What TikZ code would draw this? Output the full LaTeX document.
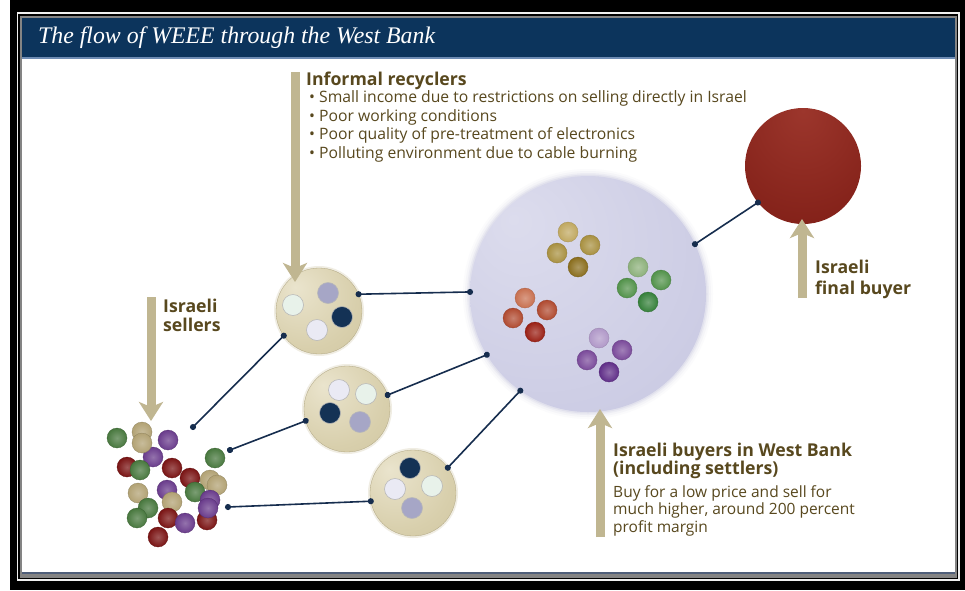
\documentclass[tikz,border=0pt]{standalone}
\usepackage{fontspec}
\setmainfont{Open Sans}
\newfontfamily\titlefont{Liberation Serif}
\usetikzlibrary{arrows.meta}
\definecolor{navyband}{RGB}{12,52,92}
\definecolor{bandline}{RGB}{110,140,180}
\definecolor{bottomline}{RGB}{80,95,122}
\definecolor{framegray}{RGB}{132,132,132}
\definecolor{txt}{RGB}{88,72,30}
\definecolor{tanarrow}{RGB}{192,182,145}
\definecolor{conncol}{RGB}{22,45,78}
\definecolor{tanL}{RGB}{234,228,205}
\definecolor{tanM}{RGB}{216,207,172}
\definecolor{tanD}{RGB}{196,185,145}
\definecolor{lavL}{RGB}{220,220,237}
\definecolor{lavM}{RGB}{202,202,227}
\definecolor{lavD}{RGB}{178,178,210}
\definecolor{redL}{RGB}{156,54,44}
\definecolor{redM}{RGB}{130,32,24}
\definecolor{redD}{RGB}{108,18,12}
\definecolor{pgreen}{RGB}{72,120,62}
\definecolor{ptan}{RGB}{178,162,116}
\definecolor{ppurple}{RGB}{106,60,140}
\definecolor{pred}{RGB}{122,20,20}
\definecolor{dmint}{RGB}{232,242,234}
\definecolor{dlav}{RGB}{166,166,198}
\definecolor{dnavy}{RGB}{20,50,85}
\definecolor{dpale}{RGB}{234,234,244}
\definecolor{gold1}{RGB}{192,168,96}
\definecolor{gold2}{RGB}{168,144,64}
\definecolor{gold3}{RGB}{138,110,30}
\definecolor{grn1}{RGB}{140,176,122}
\definecolor{grn2}{RGB}{82,146,74}
\definecolor{grn3}{RGB}{53,128,58}
\definecolor{red1}{RGB}{200,112,80}
\definecolor{red2}{RGB}{176,74,48}
\definecolor{red3}{RGB}{154,32,21}
\definecolor{pur1}{RGB}{176,152,200}
\definecolor{pur2}{RGB}{122,74,154}
\definecolor{pur3}{RGB}{96,46,136}
\pgfdeclareradialshading{tanball}{\pgfpoint{-14bp}{14bp}}{color(0bp)=(tanL); color(30bp)=(tanM); color(70bp)=(tanD)}
\pgfdeclareradialshading{lavball}{\pgfpoint{-16bp}{16bp}}{color(0bp)=(lavL); color(40bp)=(lavM); color(72bp)=(lavD)}
\pgfdeclareradialshading{redball}{\pgfpoint{0bp}{24bp}}{color(0bp)=(redL); color(40bp)=(redM); color(75bp)=(redD)}
\tikzset{
  tancirc/.style={circle, minimum size=86pt, inner sep=0pt, outer sep=0pt, shading=tanball, draw=tanD!90!black, line width=0.3pt},
  bigcirc/.style={circle, minimum size=236pt, inner sep=0pt, outer sep=0pt, shading=lavball},
  redcirc/.style={circle, minimum size=116pt, inner sep=0pt, outer sep=0pt, shading=redball},
  flowarrow/.style={draw=tanarrow, line width=9pt, -{Stealth[length=19pt,width=24pt,inset=5pt]}},
  conn/.style={draw=conncol, line width=1.6pt, {Circle[length=6pt]}-{Circle[length=6pt]}, shorten <=-3pt, shorten >=-3pt},
  head/.style={anchor=base west, text=txt, inner sep=0pt, font=\bfseries\fontsize{17.7}{19}\selectfont},
  body/.style={anchor=base west, text=txt, inner sep=0pt, font=\fontsize{15.5}{18}\selectfont},
  bullet/.style={anchor=base west, text=txt, inner sep=0pt, font=\fontsize{15.7}{19}\selectfont},
}
\newcommand{\pball}[3]{\shade[inner color=#3!72!white, outer color=#3, draw=#3!80!black, line width=0.3pt] (#1,-#2) circle (10pt);}
\newcommand{\sdot}[3]{\fill[#3, draw=black!28, line width=0.6pt] (#1,-#2) circle (10.5pt);}
\newcommand{\clusterdot}[3]{\shade[inner color=#3!70!white, outer color=#3, draw=#3!85!black, line width=0.3pt] (#1,-#2) circle (10pt);}
\begin{document}
\begin{tikzpicture}[x=1pt,y=1pt]
\useasboundingbox (0,0) rectangle (965,-590);
% frame
\fill[white] (0,0) rectangle (965,-590);
\fill[black] (10,0) rectangle (965,-590);
\draw[white!88!gray, line width=1.2pt] (17.5,-13) rectangle (959,-580);
\fill[framegray] (19.5,-15.5) rectangle (957,-577.5);
\fill[white] (21.5,-18) rectangle (955,-574);
\fill[navyband] (21.5,-18) rectangle (955,-57);
\fill[bandline] (21.5,-57) rectangle (955,-58.5);
\fill[bottomline] (21.5,-571.5) rectangle (955,-574);
\node[anchor=base west, text=white, inner sep=0pt, font=\titlefont\itshape\fontsize{23.8}{24}\selectfont] (title) at (38,-43) {The flow of WEEE through the West Bank};
% glow of big circle
\foreach \r/\o in {125/0.05,123/0.08,121/0.12,119.5/0.18}{\fill[lavD, opacity=\o] (588,-294) circle (\r pt);}
\foreach \cx/\cy in {319/311,347/409,413/493}{\fill[tanD, opacity=0.25] (\cx,-\cy) circle (45pt);}
% circles
\node[tancirc] (R1) at (319,-311) {};
\node[tancirc] (R2) at (347,-409) {};
\node[tancirc] (R3) at (413,-493) {};
\node[bigcirc] (B) at (588,-294) {};
\node[redcirc] (F) at (803,-166) {};
% dots in recycler circles
\sdot{293}{305}{dmint}\sdot{328}{293}{dlav}\sdot{342}{317}{dnavy}\sdot{317}{330}{dpale}
\sdot{339}{390}{dpale}\sdot{366}{394}{dmint}\sdot{330}{413}{dnavy}\sdot{360}{422}{dlav}
\sdot{410}{468}{dnavy}\sdot{395}{489}{dpale}\sdot{432}{486}{dmint}\sdot{412}{508}{dlav}
% clusters in big circle
\clusterdot{568}{232}{gold1}\clusterdot{557}{253}{gold2}\clusterdot{590}{245}{gold2}\clusterdot{578}{267}{gold3}
\clusterdot{638}{267}{grn1}\clusterdot{627}{288}{grn2}\clusterdot{661}{280}{grn2}\clusterdot{648}{302}{grn3}
\clusterdot{525}{298}{red1}\clusterdot{513}{318}{red2}\clusterdot{547}{310}{red2}\clusterdot{535}{332}{red3}
\clusterdot{599}{338}{pur1}\clusterdot{587}{360}{pur2}\clusterdot{622}{350}{pur2}\clusterdot{609}{372}{pur3}
% pile of balls
\pball{117}{438}{pgreen}\pball{168}{440}{ppurple}\pball{142}{432}{ptan}
\pball{153}{457}{ppurple}\pball{142}{443}{ptan}
\pball{127}{467}{pred}\pball{140}{470}{pgreen}\pball{172}{468}{pred}
\pball{215}{458}{pgreen}\pball{190}{478}{pred}\pball{210}{480}{ptan}\pball{217}{485}{ptan}
\pball{195}{492}{pgreen}\pball{167}{490}{ppurple}
\pball{138}{493}{ptan}\pball{172}{502}{ptan}\pball{148}{508}{pgreen}\pball{137}{518}{pgreen}
\pball{207}{520}{pred}\pball{210}{500}{ppurple}\pball{208}{508}{ppurple}
\pball{168}{518}{pred}\pball{185}{523}{ppurple}\pball{158}{537}{pred}
% free ends at the pile
\coordinate (p1) at (193,-427);
\coordinate (p2) at (230,-450);
\coordinate (p3) at (228,-507);
% connectors
\draw[conn] (p1) -- (R1.215);
\draw[conn] (p2) -- (R2.196);
\draw[conn] (p3) -- (R3.191);
\draw[conn] (R1.23) -- (B.179);
\draw[conn] (R2.19) -- (B.211);
\draw[conn] (R3.36) -- (B.235);
\draw[conn] (B.25) -- (F.219);
% arrows
\coordinate (a1s) at (295,-72);  \coordinate (a1e) at (295,-282);
\coordinate (a2s) at (151,-297); \coordinate (a2e) at (151,-421);
\coordinate (a3s) at (802,-298); \coordinate (a3e) at (802,-219);
\coordinate (a4s) at (600,-537); \coordinate (a4e) at (600,-409);
\draw[flowarrow] (a1s) -- (a1e);
\draw[flowarrow] (a2s) -- (a2e);
\draw[flowarrow] (a3s) -- (a3e);
\draw[flowarrow] (a4s) -- (a4e);
% texts
\node[head] (irt) at (306,-85.5) {Informal recyclers};
\node[bullet] (ir1) at (309,-102.5) {• Small income due to restrictions on selling directly in Israel};
\node[bullet] (ir2) at (309,-121) {• Poor working conditions};
\node[bullet] (ir3) at (309,-139.5) {• Poor quality of pre-treatment of electronics};
\node[bullet] (ir4) at (309,-158) {• Polluting environment due to cable burning};
\node[head] (is1) at (163,-312) {Israeli};
\node[head] (is2) at (163,-331) {sellers};
\node[head] (fb1) at (815,-273) {Israeli};
\node[head] (fb2) at (815,-294) {final buyer};
\node[head] (ib1) at (613,-456) {Israeli buyers in West Bank};
\node[head] (ib2) at (613,-474.5) {(including settlers)};
\node[body] (ib3) at (613,-497) {Buy for a low price and sell for};
\node[body] (ib4) at (613,-514.5) {much higher, around 200 percent};
\node[body] (ib5) at (613,-532) {profit margin};
\end{tikzpicture}
\end{document}
